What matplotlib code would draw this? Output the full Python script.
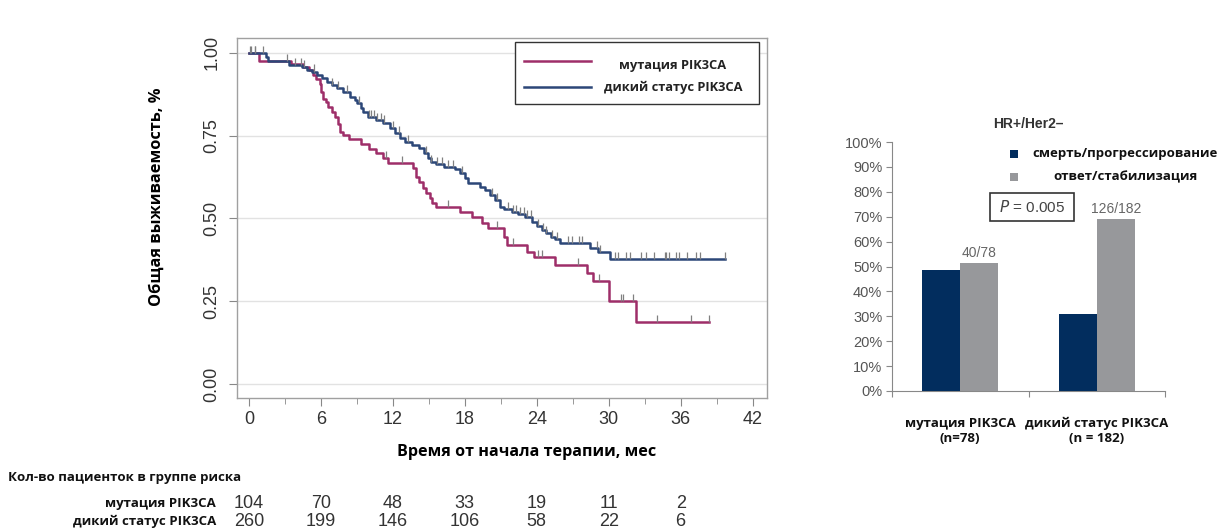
import numpy as np
import matplotlib
matplotlib.use('Agg')
import matplotlib.pyplot as plt
from matplotlib.patches import Rectangle
from matplotlib.lines import Line2D
from matplotlib.transforms import blended_transform_factory

# ---------------- data ----------------
series_labels = ['мутация PIK3CA', 'дикий статус PIK3CA']

mut_time = [0, 0.8, 3.5, 4.5, 5.0, 5.3, 5.6, 5.9, 6.0, 6.2, 6.4, 6.6, 6.9, 7.2, 7.4, 7.6, 7.8,
            8.3, 9.3, 10.0, 10.6, 11.2, 11.6, 13.7, 13.9, 14.2, 14.5, 14.8, 15.1, 15.3, 15.6,
            17.6, 18.6, 19.4, 19.9, 21.3, 21.5, 23.2, 23.8, 25.5, 28.2, 28.7, 30.0, 32.3]
mut_surv = [1.0, 0.976, 0.966, 0.958, 0.948, 0.934, 0.92, 0.905, 0.882, 0.862, 0.852, 0.838,
            0.822, 0.806, 0.785, 0.762, 0.752, 0.74, 0.726, 0.71, 0.698, 0.683, 0.668, 0.653,
            0.625, 0.61, 0.592, 0.577, 0.562, 0.547, 0.535, 0.52, 0.505, 0.486, 0.471, 0.444,
            0.42, 0.399, 0.384, 0.36, 0.335, 0.311, 0.25, 0.187]
mut_end = 38.4
mut_cens = [0.2, 0.5, 3.2, 11.4, 12.8, 16.6, 20.7, 22.0, 24.1, 24.4, 27.4, 29.2, 31.0, 31.2,
            32.0, 34.0, 36.9, 38.4]

wt_time = [0, 1.4, 1.6, 3.3, 4.4, 4.8, 5.25, 5.7, 6.1, 6.5, 6.9, 7.3, 7.85, 8.4, 8.8, 9.0, 9.3,
           9.5, 9.9, 10.6, 11.2, 11.75, 12.2, 12.6, 13.0, 13.6, 14.2, 14.6, 14.9, 15.2, 15.6,
           16.3, 17.2, 17.6, 18.0, 18.3, 19.25, 19.7, 20.1, 20.5, 20.9, 21.3, 21.9, 22.4, 23.0,
           23.6, 24.0, 24.4, 24.8, 25.2, 25.5, 25.9, 28.4, 29.1, 30.1]
wt_surv = [1.0, 0.988, 0.976, 0.964, 0.957, 0.949, 0.943, 0.934, 0.925, 0.912, 0.903, 0.894,
           0.882, 0.867, 0.858, 0.849, 0.835, 0.822, 0.807, 0.798, 0.789, 0.773, 0.758, 0.743,
           0.731, 0.722, 0.713, 0.698, 0.683, 0.671, 0.665, 0.656, 0.65, 0.637, 0.622, 0.607,
           0.595, 0.586, 0.571, 0.556, 0.535, 0.529, 0.52, 0.514, 0.505, 0.489, 0.477, 0.465,
           0.456, 0.444, 0.438, 0.426, 0.411, 0.399, 0.378]
wt_end = 39.7
wt_cens = [0.1, 0.5, 1.2, 3.8, 4.3, 4.6, 5.4, 6.9, 7.4, 8.2, 9.2, 10.0, 10.2, 10.4, 10.7, 11.0,
           11.3, 12.0, 12.5, 13.3, 14.8, 15.2, 15.7, 16.1, 16.6, 17.0, 17.8, 20.3, 20.7, 21.6,
           22.0, 22.3, 22.6, 22.9, 23.2, 23.5, 24.1, 24.5, 24.8, 25.3, 25.7, 26.6, 26.9, 27.5,
           27.75, 29.0, 29.3, 30.5, 30.75, 31.4, 31.75, 32.7, 33.1, 33.8, 34.7, 34.8, 35.0,
           35.6, 35.9, 36.5, 37.3, 37.6, 39.7]

risk_times = [0, 6, 12, 18, 24, 30, 36]
risk_mut = [104, 70, 48, 33, 19, 11, 2]
risk_wt = [260, 199, 146, 106, 58, 22, 6]

bar_categories = ['мутация PIK3CA\n(n=78)', 'дикий статус PIK3CA\n(n = 182)']
bar_series = ['смерть/прогрессирование', 'ответ/стабилизация']
bar_death = [48.7, 30.8]
bar_response = [51.3, 69.2]
bar_annot = ['40/78', '126/182']

# ---------------- style ----------------
RED = '#9E2E69'
BLUE = '#2C4778'
NAVY = '#022D5E'
GRAY = '#97989B'
LAB = 'Open Sans'
NUM = 'Liberation Sans'

W, H = 1218, 531
fig = plt.figure(figsize=(W / 100, H / 100), dpi=100)
fig.patch.set_facecolor('white')


def fx(px):
    return px / W


def fy(py):
    return 1 - py / H


# ---------------- KM panel ----------------
ax = fig.add_axes([fx(237), fy(398), fx(767) - fx(237), fy(38) - fy(398)])
ax.set_xlim(-1, 43.2)
ax.set_ylim(-0.042, 1.045)


def km(ax, t, s, end, cens, color):
    tt = list(t) + [end]
    ss = list(s) + [s[-1]]
    ax.step(tt, ss, where='post', color=color, lw=1.8, zorder=3)
    idx = np.searchsorted(np.array(t), np.array(cens), side='right') - 1
    sv = np.array(s)[idx]
    ax.vlines(cens, sv, sv + 0.022, color='#808080', lw=0.9, zorder=4)


km(ax, mut_time, mut_surv, mut_end, mut_cens, RED)
km(ax, wt_time, wt_surv, wt_end, wt_cens, BLUE)

ax.set_yticks([0, 0.25, 0.5, 0.75, 1.0])
ax.set_yticklabels(['0.00', '0.25', '0.50', '0.75', '1.00'])
ax.set_xticks(np.arange(0, 43, 6))
ax.set_xticks(np.arange(3, 43, 6), minor=True)
ax.grid(axis='y', color='#e2e2e2', lw=1.0, zorder=0)
for sp in ax.spines.values():
    sp.set_color('#a0a0a0')
    sp.set_linewidth(1.0)
ax.tick_params(axis='both', which='major', direction='out', length=6, color='#888888',
               labelsize=13, labelcolor='#333333')
ax.tick_params(axis='x', which='minor', direction='out', length=4, color='#888888')
ax.tick_params(axis='y', labelrotation=90, pad=6)
for lab in ax.get_yticklabels():
    lab.set_va('center')
    lab.set_fontfamily(NUM)
for lab in ax.get_xticklabels():
    lab.set_fontfamily(NUM)

ax.set_ylabel('Общая выживаемость, %', fontfamily=LAB, fontweight='bold', fontsize=11.8)
ax.yaxis.set_label_coords(-0.136, 0.558)
ax.set_xlabel('Время от начала терапии, мес', fontfamily=LAB, fontweight='bold', fontsize=11.6)
ax.xaxis.label.set_va('center')
ax.xaxis.set_label_coords(0.547, -0.15)

# legend (manual, centred text as in the reference)
lx0, lx1 = (515 - 237) / 530, (759 - 237) / 530
ly0, ly1 = 1 - (104 - 38) / 360, 1 - (42 - 38) / 360
ax.add_patch(Rectangle((lx0, ly0), lx1 - lx0, ly1 - ly0, transform=ax.transAxes,
                       facecolor='white', edgecolor='#333333', lw=1.0, zorder=5))
for col, lab, ypx, typx in [(RED, series_labels[0], 61, 66), (BLUE, series_labels[1], 87, 87)]:
    yy = 1 - (ypx - 38) / 360
    ax.add_line(Line2D([(524 - 237) / 530, (591 - 237) / 530], [yy, yy], color=col, lw=1.8,
                       transform=ax.transAxes, zorder=6))
    ax.text((673 - 237) / 530, 1 - (typx - 38) / 360, lab, transform=ax.transAxes,
            ha='center', va='center', fontfamily=LAB, fontweight='bold', fontsize=9.3,
            color='#222222', zorder=6)

# risk table
fig.text(fx(8), fy(478), 'Кол-во пациенток в группе риска', fontfamily=LAB, fontweight='bold',
         fontsize=9.5, ha='left', va='center', color='#111111')
trans = blended_transform_factory(ax.transData, fig.transFigure)
for row_lab, vals, ypx in [(series_labels[0], risk_mut, 503), (series_labels[1], risk_wt, 521)]:
    fig.text(fx(216), fy(ypx), row_lab, fontfamily=LAB, fontweight='bold', fontsize=9.5,
             ha='right', va='center', color='#111111')
    for t, v in zip(risk_times, vals):
        ax.text(t, fy(ypx), str(v), transform=trans, ha='center', va='center',
                fontfamily=NUM, fontsize=13, color='#333333', clip_on=False)

# ---------------- bar panel ----------------
bx = fig.add_axes([fx(892), fy(391), fx(1165) - fx(892), fy(142) - fy(391)])
xc = np.arange(len(bar_categories)) + 0.5
bw = 0.28
bx.bar(xc - bw / 2, bar_death, width=bw, color=NAVY, zorder=3)
bx.bar(xc + bw / 2, bar_response, width=bw, color=GRAY, zorder=3)
for x, v, a in zip(xc, bar_response, bar_annot):
    bx.text(x + bw / 2, v + 1.2, a, ha='center', va='bottom', fontfamily=NUM, fontsize=10,
            color='#666666')
bx.set_xlim(0, 2)
bx.set_ylim(0, 100)
bx.set_yticks(np.arange(0, 101, 10))
bx.set_yticklabels([f'{v}%' for v in range(0, 101, 10)])
bx.set_xticks([0, 1, 2])
bx.set_xticklabels([])
for s in ['top', 'right']:
    bx.spines[s].set_visible(False)
for s in ['left', 'bottom']:
    bx.spines[s].set_color('#888888')
bx.tick_params(axis='y', direction='out', length=4, color='#888888', labelsize=10.5,
               labelcolor='#555555', pad=3)
bx.tick_params(axis='x', direction='out', length=4, color='#888888')
for lab in bx.get_yticklabels():
    lab.set_fontfamily(NUM)
tb = blended_transform_factory(bx.transData, fig.transFigure)
for x, c in zip(xc, bar_categories):
    bx.text(x, fy(431), c, transform=tb, ha='center', va='center', fontfamily=LAB,
            fontweight='bold', fontsize=9.5, color='#111111', linespacing=1.25)
bx.set_title('HR+/Her2–', fontfamily=NUM, fontweight='bold', fontsize=10, color='#333333',
             pad=10)

# bar legend
for col, lab, ypx in [(NAVY, bar_series[0], 154), (GRAY, bar_series[1], 177)]:
    fig.patches.append(Rectangle((fx(1010), fy(ypx) - 4 / H), 8 / W, 8 / H,
                                 transform=fig.transFigure, facecolor=col, edgecolor='none'))
    fig.text(fx(1125), fy(ypx), lab, ha='center', va='center', fontfamily=LAB,
             fontweight='bold', fontsize=9.5, color='#111111')

# P-value box
fig.patches.append(Rectangle((fx(990), fy(221)), (1074 - 990) / W, (221 - 193) / H,
                             transform=fig.transFigure, facecolor='white',
                             edgecolor='#333333', lw=1.2))
fig.text(fx(1032), fy(207), '$\\it{P}$ = 0.005', ha='center', va='center', fontfamily=NUM,
         fontsize=11, color='#444444')

fig.savefig('out.png', dpi=100)
